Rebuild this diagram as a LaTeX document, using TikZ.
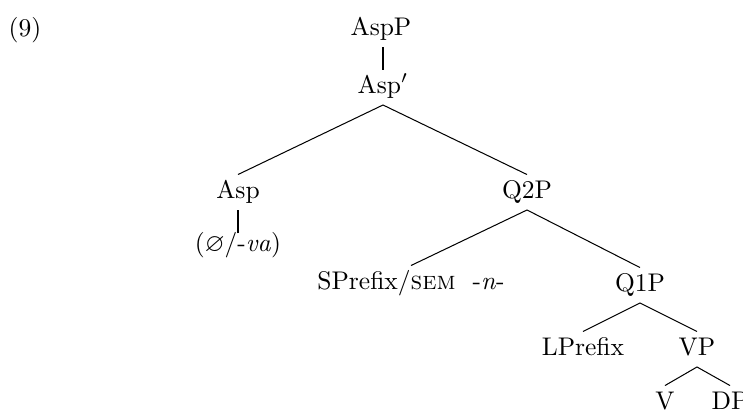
\documentclass[tikz,border=0pt]{standalone}
\usepackage{amssymb}
\begin{document}
\begin{tikzpicture}[x=0.392pt,y=-0.392pt,
  cat/.style={anchor=base, inner xsep=0pt, inner ysep=2.5pt,
              text height=6.5pt, text depth=2pt},
  branch/.style={line width=0.4pt},
  unary/.style={line width=0.9pt}]
\useasboundingbox (0,0) rectangle (743,410);

% example number
\node[anchor=base, inner sep=0pt] (ex) at (25,36) {(9)};

% tree nodes
\node[cat] (aspp)    at (381,35)  {AspP};
\node[cat] (aspbar)  at (383,93)  {Asp$'$};
\node[cat] (asp)     at (238,198) {Asp};
\node[cat, inner ysep=0.2pt] (null) at (238,251) {($\varnothing$/-\textit{va})};
\node[cat] (qtwo)    at (527,198) {Q2P};
\node[cat] (spref)   at (411,289) {SPrefix/\textsc{sem}~\ -\textit{n}-};
\node[cat] (qone)    at (640,291) {Q1P};
\node[cat] (lpref)   at (583,355) {LPrefix};
\node[cat] (vp)      at (697,355) {VP};
\node[cat] (v)       at (665,409) {V};
\node[cat] (dp)      at (730,409) {DP};

% unary branches
\draw[unary] (aspbar.north) -- (aspbar.north |- aspp.south);
\draw[unary] (null.north) -- (asp.south);

% binary branches
\draw[branch] (asp.north) -- (aspbar.south) -- (qtwo.north);
\draw[branch] (spref.north) -- (qtwo.south) -- (qone.north);
\draw[branch] (lpref.north) -- (qone.south) -- (vp.north);
\draw[branch] (v.north) -- (vp.south) -- (dp.north);
\end{tikzpicture}
\end{document}
